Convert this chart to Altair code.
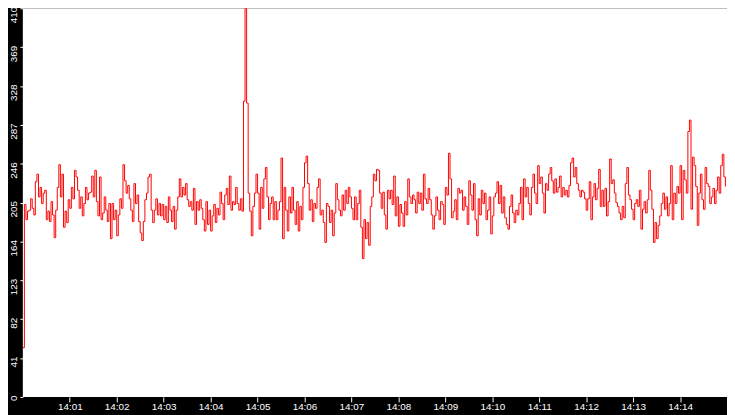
import altair as alt
import pandas as pd

# sampled every 2 seconds starting 14:00:00
seg1 = [52, 203, 187, 196, 197, 209, 199, 192, 227, 235,
        211, 221, 204, 215, 218, 187, 196, 185, 206, 192,
        168, 197, 221, 245, 211, 235, 179, 196, 184, 208,
        199, 221, 209, 239, 232, 218, 199, 211, 191, 204,
        221, 208, 215, 216, 233, 211, 239, 206, 191, 232,
        187, 194, 211, 197, 185, 204, 167, 204, 187, 197,
        170, 192, 209, 199, 245, 228, 215, 223, 209, 197,
        185, 225, 204, 213, 185]
seg2 = [173, 165, 185, 208, 215, 232, 235, 197, 184, 197,
        209, 192, 204, 191, 203, 187, 201, 184, 211, 197,
        185, 201, 177, 197, 211, 230, 211, 221, 213, 225,
        208, 201, 206, 197, 220, 182, 206, 197, 208, 199,
        187, 175, 206, 182, 197, 175, 191, 203, 184, 199,
        192, 216, 204, 187, 213, 220, 203, 233, 197, 206,
        203, 221, 204, 197, 209, 196, 312, 410, 310, 215,
        196, 170, 201, 215, 235]
seg3 = [215, 177, 221, 199, 230, 242, 211, 187, 204, 211,
        187, 206, 187, 197, 206, 252, 167, 221, 197, 175,
        211, 194, 221, 197, 182, 206, 175, 201, 187, 221,
        247, 254, 225, 197, 208, 185, 204, 199, 221, 230,
        192, 197, 184, 163, 204, 201, 184, 197, 170, 194,
        225, 208, 197, 191, 213, 197, 218, 204, 221, 211,
        199, 187, 211, 187, 204, 218, 179, 146, 187, 167,
        184, 160, 201, 211, 235]
seg4 = [228, 240, 239, 215, 199, 216, 192, 177, 218, 209,
        218, 203, 233, 191, 211, 180, 203, 194, 180, 206,
        192, 230, 211, 204, 213, 208, 194, 216, 204, 215,
        197, 235, 209, 204, 220, 208, 192, 177, 191, 211,
        197, 187, 206, 203, 182, 221, 213, 257, 230, 189,
        196, 208, 187, 220, 215, 218, 197, 211, 201, 182,
        228, 213, 197, 225, 187, 170, 209, 192, 218, 204,
        215, 187, 197, 211, 172]
seg5 = [191, 211, 215, 227, 204, 223, 194, 211, 189, 182,
        177, 201, 213, 194, 184, 197, 192, 204, 221, 187,
        230, 211, 221, 204, 192, 221, 235, 215, 204, 244,
        225, 232, 215, 194, 225, 218, 235, 242, 228, 215,
        230, 216, 221, 233, 211, 221, 213, 218, 211, 223,
        247, 252, 232, 242, 225, 218, 211, 218, 216, 209,
        197, 209, 227, 187, 211, 225, 208, 220, 240, 201,
        218, 201, 220, 191, 206]
seg6 = [251, 225, 229, 215, 205, 201, 194, 187, 201, 189,
        225, 242, 213, 208, 198, 187, 204, 208, 201, 218,
        177, 198, 206, 194, 208, 239, 218, 198, 163, 184,
        167, 181, 191, 204, 215, 198, 211, 191, 204, 244,
        187, 215, 204, 222, 215, 244, 187, 239, 229, 215,
        280, 292, 198, 253, 244, 222, 181, 215, 235, 208,
        198, 242, 225, 222, 204, 211, 220, 204, 218, 232,
        215, 244, 256, 232, 222]

values = seg1 + seg2 + seg3 + seg4 + seg5 + seg6
start = pd.Timestamp("2024-01-01 14:00:00")
times = [(start + pd.Timedelta(seconds=2 * i)).strftime("%Y-%m-%dT%H:%M:%S") for i in range(len(values))]
df = pd.DataFrame({"time": times, "value": values})

y_ticks = [0, 41, 82, 123, 164, 205, 246, 287, 328, 369, 410]
x_tick_minutes = list(range(1, 15))
x_ticks = [alt.DateTime(year=2024, month=1, date=1, hours=14, minutes=m) for m in x_tick_minutes]

chart = alt.Chart(df).mark_line(color="#ff0000", strokeWidth=1, interpolate="step-after", clip=True).encode(
    x=alt.X("time:T",
            scale=alt.Scale(domain=[alt.DateTime(year=2024, month=1, date=1, hours=14, minutes=0),
                                    alt.DateTime(year=2024, month=1, date=1, hours=14, minutes=15)]),
            axis=alt.Axis(values=x_ticks, format="%H:%M", title=None, grid=False, domain=False,
                          tickSize=5, tickColor="white", labelColor="white", labelPadding=0,
                          labelFont="Liberation Sans", labelFontSize=10, labelFlush=False,
                          labelOverlap=False)),
    y=alt.Y("value:Q",
            scale=alt.Scale(domain=[0, 410], nice=False, zero=True),
            axis=alt.Axis(values=y_ticks, title=None, grid=False, domain=False,
                          tickSize=3, tickColor="white", labelColor="white", labelPadding=1,
                          labelAngle=270, labelAlign="right", labelBaseline="bottom",
                          labelOffset=-2, labelFont="Liberation Sans", labelFontSize=10,
                          labelFlush=False, labelOverlap=False)),
).properties(
    width=712, height=393,
    autosize=alt.AutoSizeParams(type="none"),
    padding={"left": 15, "top": -2, "right": 0, "bottom": 16},
    background="black",
).configure_view(fill="white", stroke=None)

chart.save("out.html", embed_options={"renderer": "svg", "actions": False})
